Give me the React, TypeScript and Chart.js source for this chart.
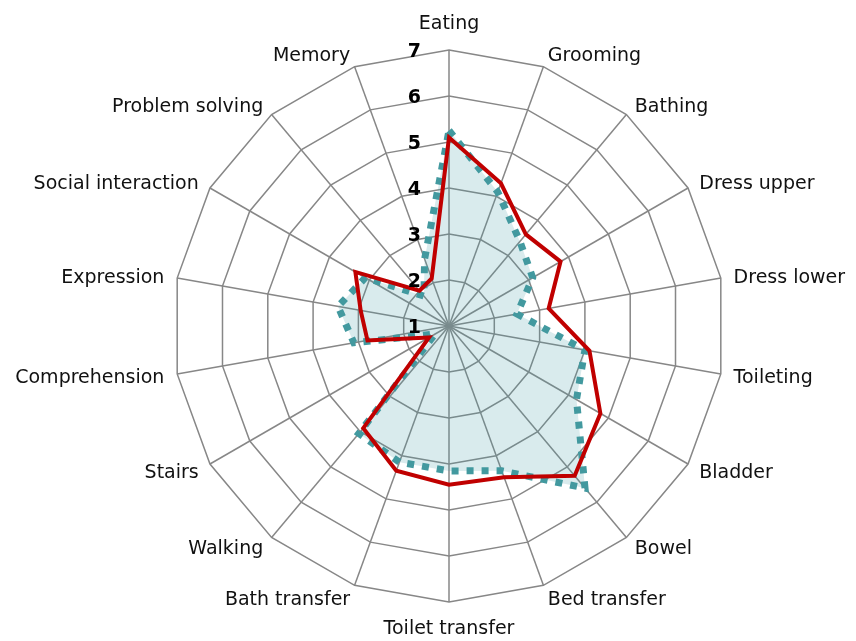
import React, { useEffect, useRef } from "react";
import { Chart, registerables } from "chart.js";

Chart.register(...registerables);

const categories = [
  "Eating",
  "Grooming",
  "Bathing",
  "Dress upper",
  "Dress lower",
  "Toileting",
  "Bladder",
  "Bowel",
  "Bed transfer",
  "Toilet transfer",
  "Bath transfer",
  "Walking",
  "Stairs",
  "Comprehension",
  "Expression",
  "Social interaction",
  "Problem solving",
  "Memory",
];

const seriesRed = [5.1, 4.3, 3.6, 3.8, 3.2, 4.1, 4.8, 5.25, 4.5, 4.45, 4.35, 3.9, 1.5, 2.8, 2.95, 3.35, 2.0, 2.1];
const seriesTeal = [5.25, 4.1, 3.4, 3.1, 2.5, 4.0, 4.2, 5.6, 4.35, 4.15, 4.15, 4.05, 1.35, 3.1, 3.45, 3.1, 1.85, 2.55];

const tickLabels = [1, 2, 3, 4, 5, 6, 7];

const LABEL_FONT = '19px "DejaVu Sans"';
const TICK_FONT = 'bold 19px "DejaVu Sans"';
const LABEL_PAD = 13;

const labelPlugin = {
  id: "customLabels",
  afterDraw(chart: any) {
    const scale = chart.scales.r;
    const ctx = chart.ctx;
    ctx.save();
    ctx.font = LABEL_FONT;
    ctx.fillStyle = "#111111";
    ctx.textBaseline = "alphabetic";
    categories.forEach((label, i) => {
      const pos = scale.getPointPosition(i, scale.drawingArea + LABEL_PAD);
      let deg = Math.round(((pos.angle + Math.PI / 2) * 180) / Math.PI);
      deg = ((deg % 360) + 360) % 360;
      let align: CanvasTextAlign = "left";
      let dy = 7;
      if (deg === 0) {
        align = "center";
        dy = -8;
      } else if (deg === 180) {
        align = "center";
        dy = 19;
      } else if (deg < 180) {
        align = "left";
      } else {
        align = "right";
      }
      ctx.textAlign = align;
      ctx.fillText(label, pos.x, pos.y + dy);
    });
    ctx.font = TICK_FONT;
    ctx.fillStyle = "#000000";
    ctx.textAlign = "right";
    tickLabels.forEach((v) => {
      const d = scale.getDistanceFromCenterForValue(v);
      ctx.fillText(String(v), scale.xCenter - 28, scale.yCenter - d + 7);
    });
    ctx.restore();
  },
};

export default function App() {
  const canvasRef = useRef<HTMLCanvasElement | null>(null);

  useEffect(() => {
    if (!canvasRef.current) return;
    const chart = new Chart(canvasRef.current, {
      type: "radar",
      data: {
        labels: categories,
        datasets: [
          {
            label: "Series 1",
            data: seriesRed,
            borderColor: "#c00000",
            borderWidth: 4,
            backgroundColor: "rgba(0,0,0,0)",
            fill: false,
            pointRadius: 0,
            tension: 0,
          },
          {
            label: "Series 2",
            data: seriesTeal,
            borderColor: "#42999f",
            borderWidth: 7,
            borderDash: [7, 8],
            borderCapStyle: "butt",
            backgroundColor: "rgba(66,153,165,0.2)",
            fill: "origin",
            pointRadius: 0,
            tension: 0,
          },
        ],
      },
      options: {
        animation: false,
        responsive: true,
        maintainAspectRatio: false,
        layout: { padding: { left: 173, right: 131, top: 50, bottom: 39 } },
        plugins: {
          legend: { display: false },
          tooltip: { enabled: false },
        },
        scales: {
          r: {
            min: 1,
            max: 7,
            beginAtZero: false,
            ticks: { stepSize: 1, display: false },
            grid: { color: "#878787", lineWidth: 1.5 },
            angleLines: { color: "#878787", lineWidth: 1.5 },
            pointLabels: { display: false },
          },
        },
      },
      plugins: [labelPlugin],
    });
    return () => chart.destroy();
  }, []);

  return (
    <div style={{ position: "fixed", left: 0, top: 0, width: 856, height: 641, background: "#ffffff" }}>
      <canvas ref={canvasRef} />
    </div>
  );
}
